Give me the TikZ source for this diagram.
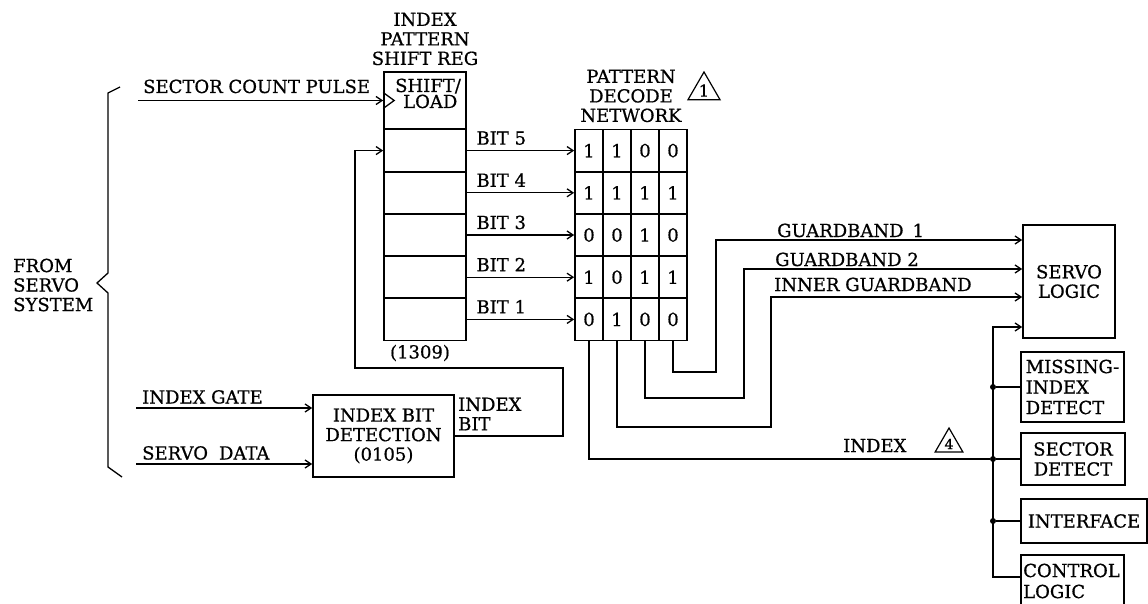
\documentclass[tikz,border=0pt]{standalone}
\usepackage{fontspec}
\setmainfont{DejaVu Serif}[FakeBold=0.7]
\usetikzlibrary{arrows.meta,shapes.geometric,calc}
\begin{document}
\begin{tikzpicture}[x=1pt,y=-1pt,
  every node/.style={font=\fontsize{18}{19.5}\selectfont, inner sep=0pt},
  box/.style={draw, line width=1.7pt, inner sep=0pt},
  cell/.style={box, minimum width=28pt, minimum height=42.2pt},
  srcell/.style={box, minimum width=82pt, minimum height=42.2pt},
  conn/.style={line width=1.3pt},
  arr/.style={conn, -{Straight Barb[length=6pt,width=8pt]}},
  lbl/.style={anchor=base west},
  dot/.style={circle, fill, minimum size=6pt, inner sep=0pt},
  tri/.style={regular polygon, regular polygon sides=3, draw, line width=1.2pt, inner sep=0pt}
  ]
\useasboundingbox (0,0) rectangle (1148,604);

% ---------- shift register ----------
\node[align=center] (srtitle) at (425,39) {INDEX\\PATTERN\\SHIFT REG};
\node[box, minimum width=82pt, minimum height=57pt] (sr0) at (425,100.5) {};
\foreach \r/\y in {5/150.6,4/192.8,3/235.0,2/277.2,1/319.4}
  \node[srcell] (sr\r) at (425,\y) {};
\node[anchor=base west] (srl1) at (395,92) {SHIFT/};
\node[anchor=base west] (srl2) at (403,108) {LOAD};
\node (srnum) at (420,353) {(1309)};
\draw[conn] ([yshift=8pt]sr0.west) -- ([xshift=11pt]sr0.west) -- ([yshift=-8pt]sr0.west);

% ---------- decode network ----------
\node[align=center] (dntitle) at (631,96) {PATTERN\\DECODE\\NETWORK};
\node[tri, minimum size=37pt, font=\fontsize{16.5}{16.5}\selectfont] (tri1) at (704,90.5) {1};
\foreach \r/\y/\a/\b/\c/\d in {5/150.6/1/1/0/0, 4/192.8/1/1/1/1, 3/235.0/0/0/1/0, 2/277.2/1/0/1/1, 1/319.4/0/1/0/0}{
  \node[cell] (d\r-1) at (589,\y) {\a};
  \node[cell] (d\r-2) at (617,\y) {\b};
  \node[cell] (d\r-3) at (645,\y) {\c};
  \node[cell] (d\r-4) at (673,\y) {\d};
}
\foreach \r in {5,4,3,2,1}
  \draw[arr] (sr\r.east) -- node[lbl, pos=0, xshift=9pt, yshift=6pt] (bit\r) {BIT \r} (d\r-1.west);

% ---------- inputs ----------
\coordinate (scp) at (138,100.5);
\node[lbl] (scplbl) at (143,93) {SECTOR COUNT PULSE};
\draw[arr] (scp) -- (sr0.west);

\node[box, minimum width=141pt, minimum height=82pt, align=center] (ibd) at (383.5,436) {INDEX BIT\\DETECTION\\(0105)};
\coordinate (igs) at (136,408);
\coordinate (sds) at (136,464);
\node[lbl] (iglbl) at (142,403.5) {INDEX GATE};
\node[lbl] (sdlbl) at (142,459.5) {SERVO\hspace{11pt}DATA};
\draw[arr] (igs) -- (igs -| ibd.west);
\draw[arr] (sds) -- (sds -| ibd.west);
\node[anchor=west, align=left] (iblbl) at (458,414) {INDEX\\BIT};

\coordinate (fbA) at (563,368);
\coordinate (fbB) at (355,368);
\draw[arr] (ibd.east) -| (fbA) -- (fbB) |- (sr5.west);

% brace
\draw[conn] (120,87) -- (108,93) -- (108,273) -- (97,283) -- (108,293) -- (108,467) -- (122,477);
\node[anchor=west, align=left] (from) at (13,285) {FROM\\SERVO\\SYSTEM};

% ---------- right side ----------
\node[box, minimum width=92pt, minimum height=113pt, align=center] (sl) at (1069,281.5) {SERVO\\LOGIC};
\node[box, minimum width=103pt, minimum height=70pt, align=left, font=\fontsize{18}{20.5}\selectfont] (mid) at (1072.5,387) {MISSING-\\INDEX\\DETECT};
\node[box, minimum width=104pt, minimum height=52pt, align=center, font=\fontsize{18}{20}\selectfont] (sd) at (1073,459) {SECTOR\\DETECT};
\node[box, minimum width=126pt, minimum height=44pt] (intf) at (1084,521) {INTERFACE};
\node[box, minimum width=103pt, minimum height=60pt] (cl) at (1072.5,585) {};
\node[anchor=west, align=left, font=\fontsize{18}{21}\selectfont] (cltxt) at (1023,581) {CONTROL\\LOGIC};

\coordinate (g1) at (716,372);
\coordinate (g2) at (744,398);
\coordinate (g3) at (771,427);
\draw[arr] (d1-4.south) |- (g1) |- (sl.west |- 0,240);
\draw[arr] (d1-3.south) |- (g2) |- (sl.west |- 0,269);
\draw[arr] (d1-2.south) |- (g3) |- (sl.west |- 0,297);
\node[lbl] (gb1) at (777,237) {GUARDBAND\hspace{9pt}1};
\node[lbl] (gb2) at (775,266) {GUARDBAND 2};
\node[lbl] (igb) at (774,291) {INNER GUARDBAND};

\coordinate (bustop) at (993,327);
\node[dot] (dmi) at (bustop |- mid.west) {};
\node[dot] (dsd) at (bustop |- sd.west) {};
\node[dot] (dif) at (bustop |- intf.west) {};
\draw[arr] (cl.west |- 0,577) -| (bustop) -- (bustop -| sl.west);
\draw[conn] (dmi) -- (mid.west);
\draw[conn] (dsd) -- (sd.west);
\draw[conn] (dif) -- (intf.west);
\draw[conn] (d1-1.south) |- (dsd);
\node[lbl] (idxlbl) at (843,452) {INDEX};
\node[tri, minimum size=32pt, font=\fontsize{14}{14}\selectfont] (tri4) at (949,444) {4};
\end{tikzpicture}
\end{document}
